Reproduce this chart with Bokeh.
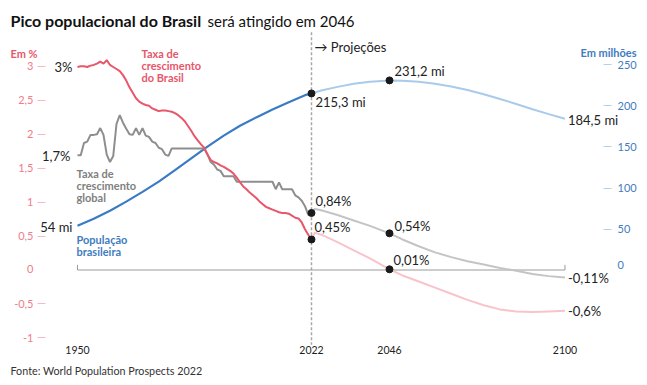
from bokeh.plotting import figure
from bokeh.models import Range1d, LinearAxis, FixedTicker, Label
from bokeh.embed import file_html
from bokeh.resources import INLINE

# ---------------- data ----------------
years_hist = list(range(1950, 2023))
br_rate_hist = [2.99, 3.00, 3.00, 2.99, 3.01, 3.02, 3.04, 3.07, 3.04, 3.09,
                3.02, 2.99, 2.96, 2.93, 2.87, 2.79, 2.69, 2.61, 2.53, 2.48,
                2.45, 2.43, 2.42, 2.38, 2.36, 2.34, 2.35, 2.35, 2.34, 2.33,
                2.31, 2.28, 2.24, 2.19, 2.12, 2.05, 1.97, 1.91, 1.85, 1.80,
                1.70, 1.62, 1.59, 1.57, 1.54, 1.52, 1.49, 1.46, 1.42, 1.36,
                1.29, 1.23, 1.19, 1.14, 1.10, 1.06, 1.01, 0.97, 0.93, 0.91,
                0.89, 0.87, 0.85, 0.84, 0.84, 0.83, 0.80, 0.77, 0.76, 0.70,
                0.60, 0.52, 0.45]
world_rate_hist = [1.69, 1.69, 1.87, 1.89, 1.99, 1.99, 2.00, 2.09, 1.99, 1.70,
                   1.59, 1.68, 2.15, 2.28, 2.17, 2.08, 2.00, 1.99, 2.09, 1.99,
                   2.09, 1.98, 1.96, 1.89, 1.87, 1.80, 1.78, 1.70, 1.68, 1.79,
                   1.79, 1.79, 1.79, 1.79, 1.79, 1.79, 1.79, 1.79, 1.79, 1.79,
                   1.70, 1.59, 1.55, 1.48, 1.46, 1.38, 1.38, 1.38, 1.38, 1.30,
                   1.30, 1.30, 1.30, 1.30, 1.30, 1.30, 1.30, 1.30, 1.30, 1.30,
                   1.30, 1.19, 1.29, 1.19, 1.19, 1.19, 1.19, 1.10, 1.07, 1.02,
                   0.94, 0.81, 0.84]

pop_years_hist = [1950, 1955, 1960, 1965, 1970, 1975, 1980, 1985, 1990, 1995,
                  2000, 2005, 2010, 2015, 2020, 2022]
pop_hist = [54.0, 62.5, 72.2, 83.4, 95.3, 107.7, 121.7, 136.2, 150.4, 163.8,
            175.9, 186.1, 195.7, 204.5, 213.2, 215.3]

proj_years = [2022, 2023, 2025, 2030, 2035, 2040, 2046, 2050, 2055, 2060,
              2065, 2070, 2075, 2080, 2085, 2090, 2095, 2100]
br_rate_proj = [0.45, 0.55, 0.52, 0.41, 0.29, 0.17, 0.01, -0.08, -0.17, -0.26,
                -0.35, -0.44, -0.52, -0.58, -0.61, -0.62, -0.61, -0.60]
world_rate_proj = [0.84, 0.90, 0.88, 0.81, 0.73, 0.65, 0.54, 0.45, 0.35, 0.26,
                   0.19, 0.13, 0.08, 0.03, -0.01, -0.06, -0.09, -0.11]

pop_proj_years = [2022, 2025, 2030, 2035, 2040, 2046, 2050, 2055, 2060, 2065,
                  2070, 2075, 2080, 2085, 2090, 2095, 2100]
pop_proj = [215.3, 218.8, 223.3, 227.0, 229.6, 231.2, 230.9, 229.6, 227.2, 223.8,
            219.5, 214.4, 208.6, 202.4, 196.1, 190.1, 184.5]

x_ticks = [1950, 2022, 2046, 2100]
left_ticks = [-1, -0.5, 0.5, 1, 1.5, 2, 2.5, 3]
left_tick_labels = ["-1", "-0,5", "0,5", "1", "1,5", "2", "2,5", "3"]
right_ticks = [50, 100, 150, 200, 250]

title_bold = "Pico populacional do Brasil"
title_rest = "será atingido em 2046"
source_text = "Fonte: World Population Prospects 2022"

# ---------------- style ----------------
FONT = "Lato"
RED = "#e8566a"
RED_LIGHT = "#f8c4ca"
RED_TICK = "#f07c8c"
BLUE = "#3a7bc4"
BLUE_LIGHT = "#a9cbea"
BLUE_TEXT = "#3f7cc0"
GRAY = "#8e8e8e"
GRAY_LIGHT = "#c4c4c4"
GRAY_TEXT = "#808080"
INK = "#222222"

W, H = 646, 384
X0, X1 = 1926.31, 2125.08
Y0, Y1 = -1.686, 3.969
POP_K = 82.8
LEFT_AX_X, RIGHT_AX_X, BOTTOM_AX_Y = 1940.15, 2111.85, -1.009

p = figure(width=W, height=H,
           x_range=Range1d(X0, X1), y_range=Range1d(Y0, Y1),
           x_axis_type=None, y_axis_type=None,
           output_backend="svg", toolbar_location=None,
           min_border=0)
p.extra_y_ranges = {"pop": Range1d(Y0 * POP_K, Y1 * POP_K)}
p.outline_line_color = None
p.background_fill_color = "white"
p.border_fill_color = "white"

# axes (fixed inside the frame)
lax = LinearAxis(ticker=FixedTicker(ticks=left_ticks), fixed_location=LEFT_AX_X,
                 major_label_overrides=dict(zip(left_ticks, left_tick_labels)))
lax.axis_line_color = None
lax.major_tick_line_color = "#f7b8c0"
lax.major_tick_out = 8
lax.major_tick_in = 0
lax.minor_tick_line_color = None
lax.major_label_text_color = RED_TICK
lax.major_label_text_font = FONT
lax.major_label_text_font_size = "11px"
lax.major_label_standoff = 4
p.add_layout(lax, "left")

rax = LinearAxis(y_range_name="pop", ticker=FixedTicker(ticks=right_ticks),
                 fixed_location=RIGHT_AX_X)
rax.axis_line_color = None
rax.major_tick_line_color = "#b5d0ec"
rax.major_tick_out = 8
rax.major_tick_in = 0
rax.minor_tick_line_color = None
rax.major_label_text_color = BLUE_TEXT
rax.major_label_text_font = FONT
rax.major_label_text_font_size = "11px"
rax.major_label_standoff = 6
p.add_layout(rax, "right")

bax = LinearAxis(ticker=FixedTicker(ticks=x_ticks), fixed_location=BOTTOM_AX_Y)
bax.axis_line_color = None
bax.major_tick_line_color = None
bax.minor_tick_line_color = None
bax.major_label_text_color = INK
bax.major_label_text_font = FONT
bax.major_label_text_font_size = "10.5px"
bax.major_label_standoff = 1
p.add_layout(bax, "below")

# zero baseline with end ticks
p.line([x_ticks[0], x_ticks[-1]], [0, 0], line_color="#9a9a9a", line_width=1)
p.segment(x0=[x_ticks[0], x_ticks[-1]], y0=[0, 0], x1=[x_ticks[0], x_ticks[-1]],
          y1=[0.075, 0.075], line_color="#9a9a9a", line_width=1)

# projection divider
p.segment(x0=[2022], y0=[3.5], x1=[2022], y1=[-1.1], line_color="#a8a8a8",
          line_dash="3 2", line_width=1.5)

# projections (light)
p.line(pop_proj_years, pop_proj, y_range_name="pop", line_color=BLUE_LIGHT, line_width=2)
p.line(proj_years, world_rate_proj, line_color=GRAY_LIGHT, line_width=2)
p.line(proj_years, br_rate_proj, line_color=RED_LIGHT, line_width=2)

# history
p.line(pop_years_hist, pop_hist, y_range_name="pop", line_color=BLUE, line_width=2.2)
p.line(years_hist, world_rate_hist, line_color=GRAY, line_width=2)
p.line(years_hist, br_rate_hist, line_color=RED, line_width=2)

# dots
i46 = proj_years.index(2046)
j46 = pop_proj_years.index(2046)
p.scatter([2022, 2046], [pop_hist[-1], pop_proj[j46]], y_range_name="pop",
          size=7, color="#1a1a1a")
p.scatter([2022, 2022, 2046, 2046],
          [world_rate_hist[-1], br_rate_hist[-1], world_rate_proj[i46], br_rate_proj[i46]],
          size=7, color="#1a1a1a")


def lab(x, y, text, dx=0, dy=0, align="left", rng="default", size="13px",
        color=INK, style="normal", xu="data", yu="data", baseline="middle"):
    kw = dict(x=x, y=y, text=text, x_offset=dx, y_offset=dy, x_units=xu, y_units=yu,
              text_align=align, text_baseline=baseline, text_font=FONT,
              text_font_size=size, text_color=color, text_font_style=style)
    if rng != "default":
        kw["y_range_name"] = rng
    p.add_layout(Label(**kw))


# value annotations
lab(1950, br_rate_hist[0], "3%", dx=-5, align="right")
lab(1950, world_rate_hist[0], "1,7%", dx=-7, dy=-1, align="right")
lab(1950, pop_hist[0], "54 mi", dx=-5, dy=-1, align="right", rng="pop")
lab(2022, pop_hist[-1], "215,3 mi", dx=4, dy=-9, rng="pop")
lab(2046, pop_proj[j46], "231,2 mi", dx=5, dy=9, rng="pop")
lab(2100, pop_proj[-1], "184,5 mi", dx=3, dy=-1, rng="pop")
lab(2022, world_rate_hist[-1], "0,84%", dx=4, dy=12)
lab(2022, br_rate_hist[-1], "0,45%", dx=3, dy=12)
lab(2046, world_rate_proj[i46], "0,54%", dx=5, dy=7)
lab(2046, br_rate_proj[i46], "0,01%", dx=4, dy=9)
lab(2100, world_rate_proj[-1], "-0,11%", dx=3, dy=-1)
lab(2100, br_rate_proj[-1], "-0,6%", dx=3)

# projections header
lab(2022, H - 46, "→ Projeções", dx=3, yu="screen")

# series labels
for k, t in enumerate(["Taxa de", "crescimento", "do Brasil"]):
    lab(141, H - 53.3 - 11.7 * k, t, xu="screen", yu="screen", size="11px",
        color=RED, style="bold")
for k, t in enumerate(["Taxa de", "crescimento", "global"]):
    lab(76, H - 173.3 - 12 * k, t, xu="screen", yu="screen", size="11px",
        color=GRAY_TEXT, style="bold")
for k, t in enumerate(["População", "brasileira"]):
    lab(76, H - 239 - 11.7 * k, t, xu="screen", yu="screen", size="11px",
        color=BLUE_TEXT, style="bold")

# axis units and zero labels
lab(10, H - 52.5, "Em %", xu="screen", yu="screen", size="11px", color=RED, style="bold")
lab(636, H - 51.7, "Em milhões", xu="screen", yu="screen", size="11px",
    color=BLUE_TEXT, style="bold", align="right")
lab(LEFT_AX_X, 0, "0", dx=-12, dy=1.5, align="right", size="11px", color=RED_TICK)
lab(RIGHT_AX_X, 0, "0", dx=14, dy=5.5, size="11px", color=BLUE_TEXT)

# title and source
lab(10, H - 20, title_bold, xu="screen", yu="screen", size="16px", style="bold",
    color="#111111", baseline="alphabetic")
lab(207, H - 20, title_rest, xu="screen", yu="screen", size="15px",
    color="#111111", baseline="alphabetic")
lab(10, H - 370, source_text, xu="screen", yu="screen", size="10.75px", color="#333333")

open("out.html", "w").write(file_html(p, INLINE))
